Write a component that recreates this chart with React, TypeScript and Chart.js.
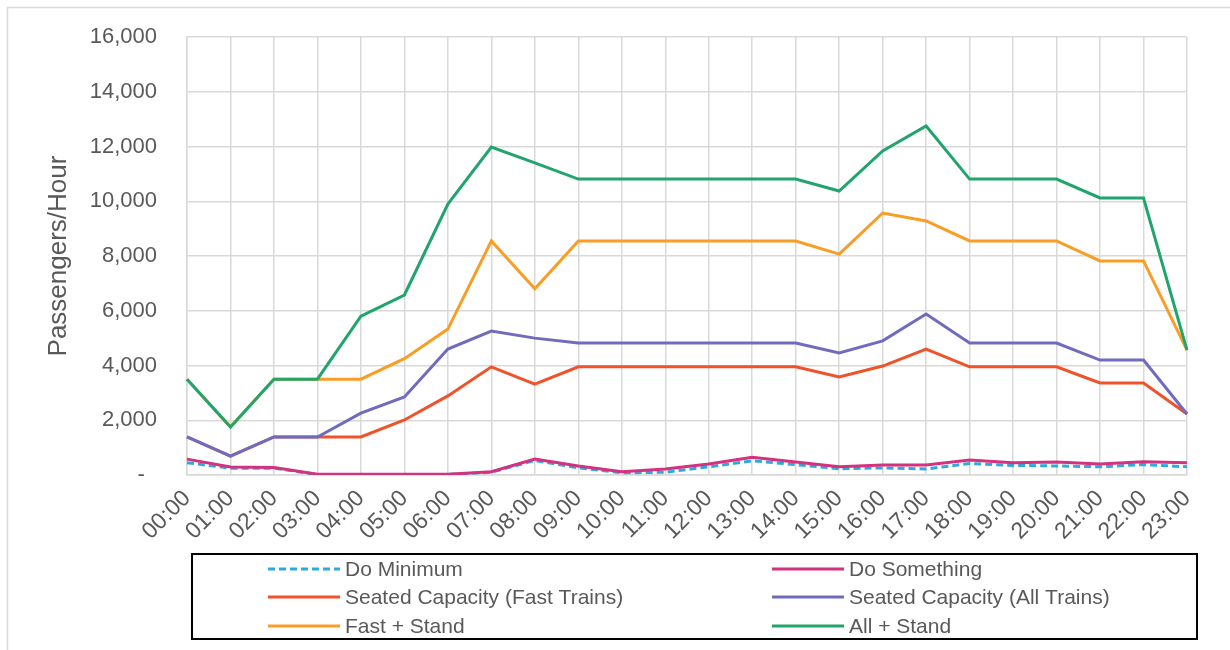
import React, { useEffect, useRef } from "react";
import { Chart, registerables } from "chart.js";

Chart.register(...registerables);

const hours = ["00:00","01:00","02:00","03:00","04:00","05:00","06:00","07:00","08:00","09:00","10:00","11:00","12:00","13:00","14:00","15:00","16:00","17:00","18:00","19:00","20:00","21:00","22:00","23:00"];

const doMinimum = [450,250,250,20,20,20,20,100,530,260,80,100,300,520,380,230,260,220,420,350,330,300,380,300];
const doSomething = [580,290,270,30,30,30,30,120,580,330,120,220,400,650,475,300,365,365,550,450,475,400,485,450];
const seatedFast = [1390,690,1390,1390,1390,2010,2890,3950,3320,3950,3950,3950,3950,3950,3950,3580,3980,4600,3950,3950,3950,3360,3360,2230];
const seatedAll = [1390,690,1390,1390,2260,2850,4600,5260,5000,4820,4820,4820,4820,4820,4820,4460,4900,5880,4820,4820,4820,4200,4200,2230];
const fastStand = [3500,1750,3500,3500,3500,4250,5330,8550,6800,8550,8550,8550,8550,8550,8550,8070,9570,9280,8550,8550,8550,7820,7820,4560];
const allStand = [3500,1750,3500,3500,5800,6575,9900,11980,11400,10810,10810,10810,10810,10810,10810,10375,11835,12750,10810,10810,10810,10120,10120,4560];

const yTicks = [0,2000,4000,6000,8000,10000,12000,14000,16000];

const FONT = "'Liberation Sans', Arial, sans-serif";
const TEXT = "#595959";

const legendPlugin = {
  id: "boxLegend",
  afterDraw(chart: any) {
    const ctx = chart.ctx;
    ctx.save();
    // outer chart border
    ctx.strokeStyle = "#d9d9d9";
    ctx.lineWidth = 1.5;
    ctx.beginPath();
    ctx.moveTo(7.5, 660);
    ctx.lineTo(7.5, 7.5);
    ctx.lineTo(1240, 7.5);
    ctx.stroke();
    // legend box
    ctx.strokeStyle = "#000";
    ctx.lineWidth = 2;
    ctx.strokeRect(192, 554, 1005, 85);
    const cols = [268, 772];
    const rows = [569, 597, 626];
    ctx.font = `21px ${FONT}`;
    ctx.textBaseline = "middle";
    ctx.textAlign = "left";
    chart.data.datasets.forEach((ds: any, i: number) => {
      const x = cols[i % 2];
      const y = rows[Math.floor(i / 2)];
      ctx.strokeStyle = ds.borderColor;
      ctx.lineWidth = 3;
      ctx.setLineDash(ds.borderDash || []);
      ctx.beginPath();
      ctx.moveTo(x, y);
      ctx.lineTo(x + 72, y);
      ctx.stroke();
      ctx.setLineDash([]);
      ctx.fillStyle = TEXT;
      ctx.fillText(ds.label, x + 77, y + 1);
    });
    ctx.restore();
  },
};

export default function App() {
  const ref = useRef<HTMLCanvasElement>(null);
  useEffect(() => {
    if (!ref.current) return;
    const mk = (label: string, data: number[], color: string, order: number, dash?: number[]) => ({
      label,
      data,
      borderColor: color,
      backgroundColor: color,
      borderWidth: 3,
      borderDash: dash,
      pointRadius: 0,
      tension: 0,
      fill: false,
      order,
    });
    const chart = new Chart(ref.current, {
      type: "line",
      data: {
        labels: hours,
        datasets: [
          mk("Do Minimum", doMinimum, "#2ea9df", 5, [7, 4]),
          mk("Do Something", doSomething, "#d4317f", 4),
          mk("Seated Capacity (Fast Trains)", seatedFast, "#f0522a", 3),
          mk("Seated Capacity (All Trains)", seatedAll, "#6f6cbe", 2),
          mk("Fast + Stand", fastStand, "#f99d25", 1),
          mk("All + Stand", allStand, "#22a46d", 0),
        ],
      },
      options: {
        animation: false,
        responsive: false,
        events: [],
        layout: { padding: { left: 0, right: 43, top: 37, bottom: 0 } },
        plugins: { legend: { display: false }, tooltip: { enabled: false } },
        scales: {
          x: {
            offset: false,
            grid: { color: "#d9d9d9", lineWidth: 1.5, drawTicks: false },
            border: { color: "#d9d9d9", width: 1.5 },
            ticks: {
              color: TEXT,
              font: { family: FONT, size: 23 },
              maxRotation: 45,
              minRotation: 45,
              autoSkip: false,
              padding: 10,
            },
            afterFit: (s: any) => { s.height = 175; },
          },
          y: {
            min: 0,
            max: 16000,
            afterBuildTicks: (s: any) => { s.ticks = yTicks.map((v) => ({ value: v })); },
            grid: { color: "#d9d9d9", lineWidth: 1.5, drawTicks: false },
            border: { color: "#d9d9d9", width: 1.5 },
            ticks: {
              color: TEXT,
              font: { family: FONT, size: 22 },
              padding: 30,
              callback: (v: any) => (v === 0 ? "-  " : Number(v).toLocaleString("en-US")),
            },
            title: {
              display: true,
              text: "Passengers/Hour",
              color: TEXT,
              font: { family: FONT, size: 26 },
              padding: { top: 43, bottom: 0 },
            },
            afterFit: (s: any) => {
              s.width = 187;
              s.paddingTop = 10;
              s.paddingBottom = 10;
            },
          },
        },
      },
      plugins: [legendPlugin],
    });
    return () => chart.destroy();
  }, []);
  return (
    <div style={{ position: "fixed", left: 0, top: 0, width: 1230, height: 650, background: "#fff" }}>
      <canvas ref={ref} width={1230} height={650} style={{ width: 1230, height: 650, display: "block" }} />
    </div>
  );
}
